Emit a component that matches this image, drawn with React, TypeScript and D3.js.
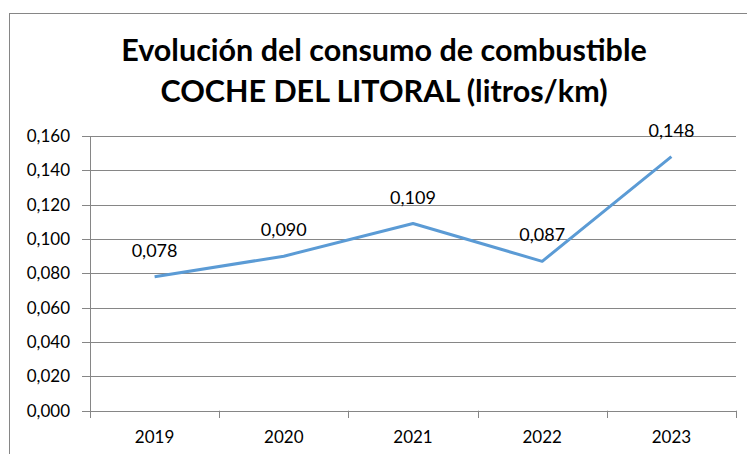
import React from "react";
import * as d3 from "d3";

const years = ["2019", "2020", "2021", "2022", "2023"];
const values = [0.078, 0.09, 0.109, 0.087, 0.148];
const yTicks = [0, 0.02, 0.04, 0.06, 0.08, 0.1, 0.12, 0.14, 0.16];
const titleLines = ["Evolución del consumo de combustible", "COCHE DEL LITORAL (litros/km)"];

const W = 747;
const H = 454;
const FONT = "Lato, 'Open Sans', sans-serif";
const fmt = (v: number) => v.toFixed(3).replace(".", ",");

export default function App() {
  const left = 90;
  const right = 736;
  const top = 136;
  const bottom = 410.7;
  const x = d3.scaleBand<string>().domain(years).range([left, right]);
  const y = d3.scaleLinear().domain([0, 0.16]).range([bottom, top]);
  const line = d3
    .line<number>()
    .x((_, i) => (x(years[i]) as number) + x.bandwidth() / 2)
    .y((d) => y(d));
  const grid = "#868686";
  const boundaries = years.map((yr) => x(yr) as number).concat([right]);

  return (
    <svg
      width={W}
      height={H}
      style={{ position: "absolute", left: 0, top: 0, background: "#fff" }}
      fontFamily={FONT}
    >
      <rect x={0} y={0} width={W} height={H} fill="#fff" />
      <rect x={9.5} y={13.5} width={900} height={600} fill="none" stroke={grid} strokeWidth={1} />
      {titleLines.map((t, i) => (
        <text
          key={t}
          x={384}
          y={61 + i * 41}
          textAnchor="middle"
          fontWeight="bold"
          fontSize={30.5}
          fill="#000"
        >
          {t}
        </text>
      ))}
      {yTicks.map((t) => (
        <g key={t}>
          <line x1={82} x2={right} y1={Math.round(y(t)) + 0.5} y2={Math.round(y(t)) + 0.5} stroke={grid} strokeWidth={1} />
          <text x={70} y={y(t)} dy="0.35em" textAnchor="end" fontSize={17} fill="#000">
            {fmt(t)}
          </text>
        </g>
      ))}
      <line x1={left + 0.5} x2={left + 0.5} y1={top} y2={bottom + 0.5} stroke={grid} strokeWidth={1} />
      {boundaries.map((b, i) => (
        <line key={i} x1={Math.round(b) + 0.5} x2={Math.round(b) + 0.5} y1={bottom} y2={418} stroke={grid} strokeWidth={1} />
      ))}
      {years.map((yr) => (
        <text
          key={yr}
          x={(x(yr) as number) + x.bandwidth() / 2}
          y={443}
          textAnchor="middle"
          fontSize={17}
          fill="#000"
        >
          {yr}
        </text>
      ))}
      <path d={line(values) || ""} fill="none" stroke="#5B9BD5" strokeWidth={3} strokeLinejoin="round" />
      {values.map((v, i) => (
        <text
          key={i}
          x={(x(years[i]) as number) + x.bandwidth() / 2}
          y={y(v) - 20}
          textAnchor="middle"
          fontSize={18}
          fill="#000"
        >
          {fmt(v)}
        </text>
      ))}
    </svg>
  );
}
